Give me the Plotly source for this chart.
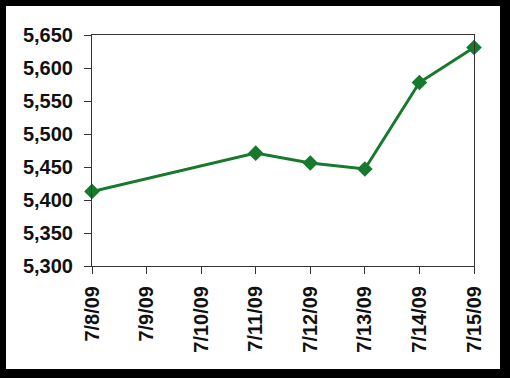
import plotly.graph_objects as go

dates = ["2009-07-08", "2009-07-11", "2009-07-12", "2009-07-13", "2009-07-14", "2009-07-15"]
values = [5413, 5471, 5456, 5447, 5578, 5631]
tick_dates = ["2009-07-08", "2009-07-09", "2009-07-10", "2009-07-11",
              "2009-07-12", "2009-07-13", "2009-07-14", "2009-07-15"]
tick_labels = ["7/8/09", "7/9/09", "7/10/09", "7/11/09", "7/12/09", "7/13/09", "7/14/09", "7/15/09"]
y_ticks = [5300, 5350, 5400, 5450, 5500, 5550, 5600, 5650]

GREEN = "#17792c"
W, H = 510, 378
L, R, T, B = 92, 36, 35, 112
pw, ph = W - L - R, H - T - B

def px(x):
    return (x - L) / pw

def py(y):
    return (H - B - y) / ph

fig = go.Figure()
fig.add_trace(go.Scatter(
    x=dates, y=values, mode="lines+markers",
    line=dict(color=GREEN, width=3),
    marker=dict(symbol="diamond", size=12, color=GREEN),
    showlegend=False, cliponaxis=False,
))

fig.add_shape(type="rect", xref="paper", yref="paper",
              x0=px(6), x1=px(500), y0=py(369), y1=py(6),
              fillcolor="white", line=dict(width=0), layer="below")

font = dict(family="Liberation Sans, Arial", size=20, color="#111111", weight="bold")

fig.update_layout(
    width=W, height=H,
    margin=dict(l=L, r=R, t=T, b=B, pad=0),
    paper_bgcolor="black", plot_bgcolor="white",
    xaxis=dict(
        type="date",
        range=[tick_dates[0], tick_dates[-1]],
        tickvals=tick_dates, ticktext=tick_labels,
        tickangle=-90, tickfont=font,
        ticks="outside", ticklen=7, tickcolor="#333333", tickwidth=1,
        showline=True, linecolor="#333333", linewidth=1, mirror=True,
        showgrid=False, zeroline=False, ticklabelstandoff=4,
    ),
    yaxis=dict(
        range=[5300, 5650],
        tickvals=y_ticks, tickformat=",d",
        tickfont=font,
        ticks="outside", ticklen=7, tickcolor="#333333", tickwidth=1,
        showline=True, linecolor="#333333", linewidth=1, mirror=True,
        showgrid=False, zeroline=False, ticklabelstandoff=7,
    ),
)

fig.write_html("out.html")
